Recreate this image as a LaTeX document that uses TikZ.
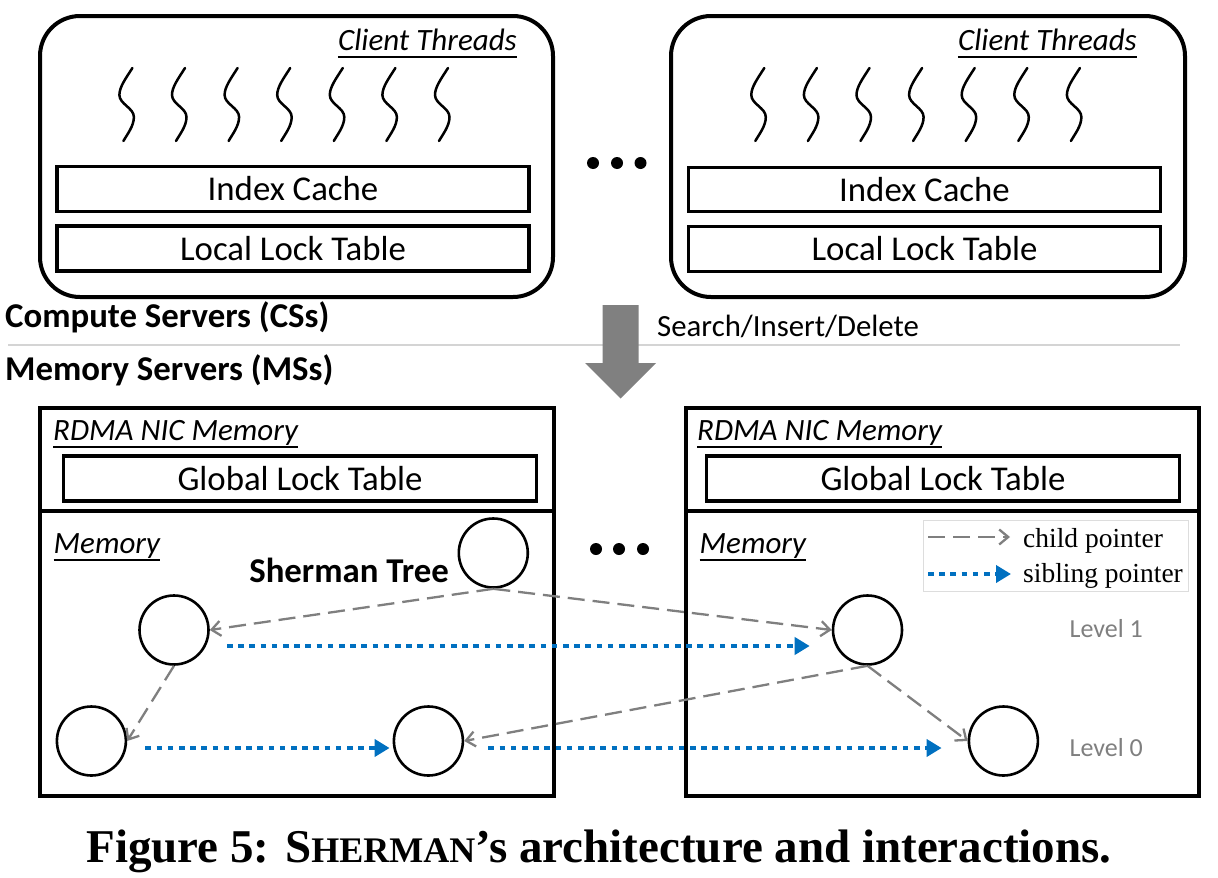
\documentclass[tikz,border=0pt]{standalone}
\usepackage{fontspec}
\setmainfont{Carlito}
\newfontfamily\serifcap{Liberation Serif}
\usetikzlibrary{arrows.meta}
\definecolor{sibblue}{HTML}{0070C0}
\definecolor{ptrgray}{HTML}{7F7F7F}
\definecolor{arrgray}{HTML}{808080}
\definecolor{rulegray}{HTML}{D4D4D4}
\definecolor{legframe}{HTML}{DDDDDD}
\begin{document}
\begin{tikzpicture}[x=1pt,y=-1pt,
  csbox/.style={draw, line width=4pt, rounded corners=40pt, inner sep=0pt},
  msbox/.style={draw, line width=4pt, inner sep=0pt},
  innerbox/.style={draw, line width=3.5pt, inner sep=0pt, font=\fontsize{34.8}{40}\selectfont},
  tnode/.style={circle, draw, line width=2.6pt, minimum size=69pt, inner sep=0pt},
  child/.style={draw=ptrgray, line width=2.3pt, dash pattern=on 17pt off 8pt,
     -{Straight Barb[length=9pt,width=15pt,line width=2.3pt]}},
  sib/.style={draw=sibblue, line width=4.5pt, dash pattern=on 5.5pt off 5.7pt,
     -{Triangle[length=15pt,width=17pt]}},
  lbl/.style={inner sep=0pt, font=\fontsize{31}{36}\selectfont\itshape},
  big/.style={inner sep=0pt, font=\fontsize{34.8}{40}\selectfont},
  bigb/.style={inner sep=0pt, font=\fontsize{34.8}{40}\selectfont\bfseries},
  lvl/.style={inner sep=0pt, text=ptrgray, font=\fontsize{26}{30}\selectfont},
  leg/.style={inner sep=0pt, font=\fontsize{27.5}{32}\selectfont\serifcap},
  squig/.style={line width=2.5pt, line cap=round},
  ddot/.style={circle, fill=black, inner sep=0pt, minimum size=12pt}
]
\useasboundingbox (0,0) rectangle (1218,878);

% ---------- Compute servers ----------
\node[csbox, minimum width=513pt, minimum height=281pt, anchor=north west] (cs1) at (38,14) {};
\node[csbox, minimum width=514pt, minimum height=281pt, anchor=north west] (cs2) at (669,14) {};

\node[lbl, anchor=base east] (ct1) at (517,50) {Client Threads};
\draw[line width=1.6pt] ([yshift=-7pt]ct1.base west) -- ([yshift=-7pt]ct1.base east);
\node[lbl, anchor=base east] (ct2) at (1137,50) {Client Threads};
\draw[line width=1.6pt] ([yshift=-7pt]ct2.base west) -- ([yshift=-7pt]ct2.base east);

\foreach \x in {119.4,172.0,224.6,277.2,329.8,382.4,435.0,751.3,803.9,856.5,909.1,961.7,1014.3,1066.9}{
  \draw[squig] (\x+13,68) .. controls (\x+6,79) and (\x,87) .. (\x,95)
     .. controls (\x,104) and (\x+14.5,108) .. (\x+14.5,117)
     .. controls (\x+14.5,126) and (\x+8,134) .. (\x+4,141);
}

\node[innerbox, minimum width=472pt, minimum height=45pt] (ic1) at (293,189) {Index Cache};
\node[innerbox, minimum width=472pt, minimum height=45pt] (ll1) at (293,248.5) {Local Lock Table};
\node[innerbox, minimum width=472pt, minimum height=44pt] (ic2) at (924.5,189.5) {Index Cache};
\node[innerbox, minimum width=472pt, minimum height=45pt] (ll2) at (924.5,249) {Local Lock Table};

\node[ddot] (d1) at (593,163) {};
\node[ddot] (d2) at (617,163) {};
\node[ddot] (d3) at (640.5,163) {};

% ---------- separator ----------
\node[bigb, anchor=base west] (csl) at (5,327) {Compute Servers (CSs)};
\node[bigb, anchor=base west] (msl) at (5,380) {Memory Servers (MSs)};
\coordinate (ruleL) at (8,345);
\coordinate (ruleR) at (1180,345);
\draw[rulegray, line width=1.6pt] (ruleL) -- (ruleR);

\fill[arrgray] (602.7,305) -- (638.7,305) -- (638.7,363) -- (656,363) -- (620.5,398.5)
   -- (585,363) -- (602.7,363) -- cycle;
\node[inner sep=0pt, anchor=base west, font=\fontsize{30.8}{36}\selectfont] (sid) at (657,336.5) {Search/Insert/Delete};

% ---------- Memory servers ----------
\node[msbox, minimum width=514pt, minimum height=388pt, anchor=north west] (ms1) at (38,406) {};
\node[msbox, minimum width=513pt, minimum height=388pt, anchor=north west] (ms2) at (684,406) {};
\draw[line width=4pt] (ms1.west |- 0,511) -- (ms1.east |- 0,511);
\draw[line width=4pt] (ms2.west |- 0,511) -- (ms2.east |- 0,511);

\node[lbl, anchor=base west] (nic1) at (53,440) {RDMA NIC Memory};
\draw[line width=1.6pt] ([yshift=-7pt]nic1.base west) -- ([yshift=-7pt]nic1.base east);
\node[lbl, anchor=base west] (nic2) at (697,440) {RDMA NIC Memory};
\draw[line width=1.6pt] ([yshift=-7pt]nic2.base west) -- ([yshift=-7pt]nic2.base east);

\node[innerbox, minimum width=473pt, minimum height=45pt] (glt1) at (300,478.5) {Global Lock Table};
\node[innerbox, minimum width=473pt, minimum height=45pt] (glt2) at (943,478.5) {Global Lock Table};

\node[lbl, anchor=base west] (mem1) at (53.5,553) {Memory};
\draw[line width=1.6pt] ([yshift=-7pt]mem1.base west) -- ([yshift=-7pt]mem1.base east);
\node[lbl, anchor=base west] (mem2) at (699.5,553) {Memory};
\draw[line width=1.6pt] ([yshift=-7pt]mem2.base west) -- ([yshift=-7pt]mem2.base east);

\node[ddot] (e1) at (596,549) {};
\node[ddot] (e2) at (619,549) {};
\node[ddot] (e3) at (643,549) {};

\node[bigb, anchor=base east] (st) at (449,582.5) {Sherman Tree};

% legend
\node[draw=legframe, line width=1pt, minimum width=265pt, minimum height=71pt, anchor=north west] (leg) at (922.5,519.5) {};
\coordinate (lc1) at (928,537);
\coordinate (lc2) at (1010,537);
\draw[child] (lc1) -- (lc2);
\node[leg, anchor=base west] (lct) at (1023,547) {child pointer};
\coordinate (ls1) at (928,574);
\coordinate (ls2) at (1011,574);
\draw[sib] (ls1) -- (ls2);
\node[leg, anchor=base west] (lst) at (1023,582) {sibling pointer};

\node[lvl, anchor=west] (lv1) at (1069.5,629) {Level 1};
\node[lvl, anchor=west] (lv0) at (1069.5,748) {Level 0};

% tree nodes
\node[tnode] (root) at (493.3,553) {};
\node[tnode] (a1) at (174,630) {};
\node[tnode] (b1) at (867.5,630) {};
\node[tnode] (a0) at (91.4,741) {};
\node[tnode] (m0) at (428.4,741) {};
\node[tnode] (c0) at (1003.4,741) {};

% child pointers
\draw[child] (root.south) -- (a1.east);
\draw[child] (root.south) -- (b1.west);
\draw[child] (a1.south) -- (a0.east);
\draw[child] (b1.south) -- (m0.east);
\draw[child] (b1.south) -- (c0.west);

% sibling pointers
\draw[sib] ([shift={(53,16)}]a1.center) -- ([shift={(-22,16)}]b1.west);
\draw[sib] ([shift={(54,7)}]a0.center) -- ([shift={(-3,7)}]m0.west);
\draw[sib] ([shift={(60,7)}]m0.center) -- ([shift={(-26,7)}]c0.west);

% caption
\node[inner sep=0pt, anchor=base, font=\fontsize{47}{52}\selectfont\serifcap\bfseries] (cap) at (599,862)
  {Figure 5: S{\fontsize{36}{40}\selectfont HERMAN}’s architecture and interactions.};
\end{tikzpicture}
\end{document}
